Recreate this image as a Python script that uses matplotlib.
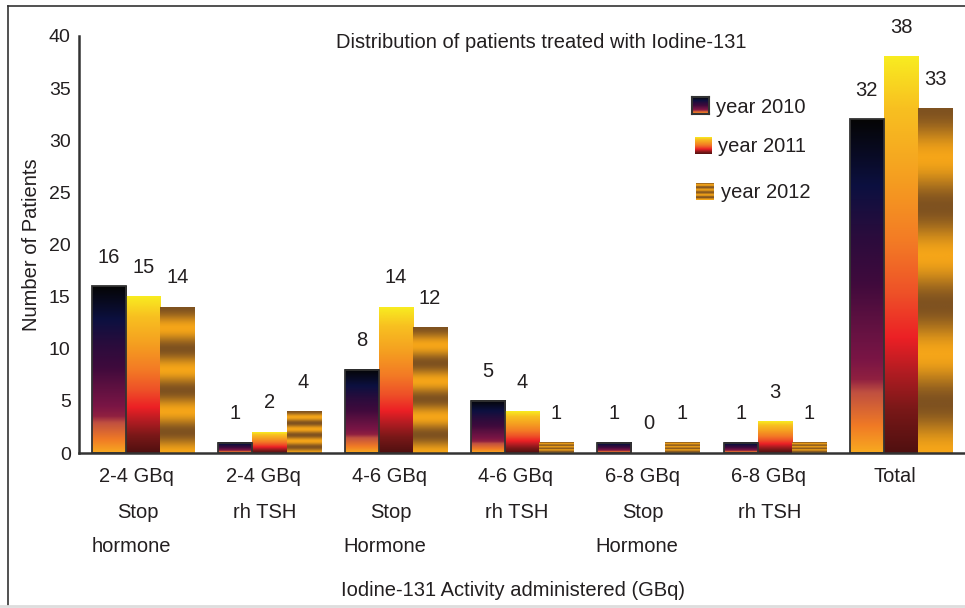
import numpy as np
import matplotlib.pyplot as plt
from matplotlib.colors import LinearSegmentedColormap
from matplotlib.lines import Line2D
import matplotlib.transforms as mtransforms

# data
line1 = ['2-4 GBq', '2-4 GBq', '4-6 GBq', '4-6 GBq', '6-8 GBq', '6-8 GBq', 'Total']
line2 = ['Stop', 'rh TSH', 'Stop', 'rh TSH', 'Stop', 'rh TSH', '']
line3 = ['hormone', '', 'Hormone', '', 'Hormone', '', '']
years = ['year 2010', 'year 2011', 'year 2012']
y2010 = [16, 1, 8, 5, 1, 1, 32]
y2011 = [15, 2, 14, 4, 0, 3, 38]
y2012 = [14, 4, 12, 1, 1, 1, 33]

plt.rcParams['font.family'] = ['Liberation Sans', 'DejaVu Sans']
txt = '#231f20'
fs = 14.5

# gradients (bottom -> top)
cm10 = LinearSegmentedColormap.from_list('c10', [
    (0.0, '#f8aa20'), (0.08, '#f07a25'), (0.18, '#c05040'), (0.22, '#902040'),
    (0.28, '#7a1545'), (0.41, '#5a1040'), (0.51, '#3f0a3c'), (0.65, '#2a0c3c'),
    (0.8, '#0c1040'), (1.0, '#050505')])
cm11 = LinearSegmentedColormap.from_list('c11', [
    (0.0, '#501010'), (0.11, '#7a1818'), (0.2, '#b01c22'), (0.29, '#ec2025'),
    (0.4, '#ee5028'), (0.53, '#f37a25'), (0.7, '#f5a020'), (0.87, '#f8c020'),
    (1.0, '#f8ec20')])
cm12 = LinearSegmentedColormap.from_list('c12', ['#f5a518', '#7f5220'])

t = np.linspace(0, 1, 256).reshape(-1, 1)
grad_smooth = t
grad_stripe = 0.5 + 0.5 * np.cos(2 * np.pi * 3.5 * (1 - t))

fig = plt.figure(figsize=(9.65, 6.08), dpi=100)
ax = fig.add_axes([79 / 965, 1 - 453 / 608, (965 - 79) / 965, (453 - 36) / 608])

x = np.arange(len(line1))
w = 0.27
series = [(y2010, cm10, grad_smooth, -w), (y2011, cm11, grad_smooth, 0), (y2012, cm12, grad_stripe, w)]
for k, (vals, cmap, grad, off) in enumerate(series):
    bars = ax.bar(x + off, vals, w, color='none',
                  edgecolor='#333333' if k == 0 else 'none', linewidth=1.3, zorder=3)
    for b, v in zip(bars, vals):
        if v > 0:
            ax.imshow(grad, extent=[b.get_x(), b.get_x() + w, 0, v], origin='lower',
                      aspect='auto', cmap=cmap, vmin=0, vmax=1, zorder=2)
        ax.annotate(str(v), (b.get_x() + w / 2, v), xytext=(0, 21), textcoords='offset points',
                    ha='center', va='center', fontsize=fs, color=txt)

ax.set_xlim(-0.508, 6.507)
ax.set_ylim(0, 40)
ax.set_yticks(range(0, 41, 5))
ax.tick_params(axis='y', length=0, labelsize=fs - 0.5, labelcolor=txt, pad=6)
ax.set_xticks([])
for s in ['top', 'right']:
    ax.spines[s].set_visible(False)
for s in ['left', 'bottom']:
    ax.spines[s].set_color('#333333')
    ax.spines[s].set_linewidth(1.8)

# multi-line category labels
tr = mtransforms.blended_transform_factory(ax.transData, fig.transFigure)
for i in range(len(line1)):
    ax.text(i - 0.05, 1 - 477 / 608, line1[i], transform=tr, ha='center', va='center', fontsize=fs, color=txt)
    ax.text(i - 0.04, 1 - 512 / 608, line2[i], transform=tr, ha='center', va='center', fontsize=fs, color=txt)
    ax.text(i - 0.09, 1 - 547 / 608, line3[i], transform=tr, ha='center', va='center', fontsize=fs, color=txt)

fig.text(513 / 965, 1 - 590 / 608, 'Iodine-131 Activity administered (GBq)', ha='center', va='center',
         fontsize=fs, color=txt)
fig.text(32 / 965, 1 - 245 / 608, 'Number of Patients', rotation=90, ha='center', va='center',
         fontsize=fs, color=txt)
fig.text(541 / 965, 1 - 43 / 608, 'Distribution of patients treated with Iodine-131', ha='center', va='center',
         fontsize=fs, color=txt)

# legend
sw = [(692, 97, cm10, grad_smooth, True), (695, 137, cm11, grad_smooth, False), (696, 183, cm12, grad_stripe, False)]
tpos = [(716, 108), (718, 147), (721, 193)]
for (px, py, cmap, grad, edge), (tx, ty), lab in zip(sw, tpos, years):
    lax = fig.add_axes([px / 965, 1 - (py + 17) / 608, 17 / 965, 17 / 608])
    lax.imshow(grad[::16] if grad is grad_stripe else grad, origin='lower', aspect='auto', cmap=cmap, vmin=0, vmax=1,
               extent=[0, 1, 0, 1])
    lax.set_xticks([])
    lax.set_yticks([])
    for s in lax.spines.values():
        s.set_visible(edge)
        s.set_color('#333333')
        s.set_linewidth(1.5)
    fig.text(tx / 965, 1 - ty / 608, lab, ha='left', va='center', fontsize=fs, color=txt)

# outer frame
fig.add_artist(Line2D([8 / 965, 1], [1 - 6 / 608] * 2, color='#333333', lw=1.2))
fig.add_artist(Line2D([8 / 965] * 2, [1 - 6 / 608, 1 - 606 / 608], color='#333333', lw=1.2))
fig.add_artist(Line2D([0, 1], [1 - 606 / 608] * 2, color='#dddddd', lw=2))

fig.savefig('out.png', dpi=100)
